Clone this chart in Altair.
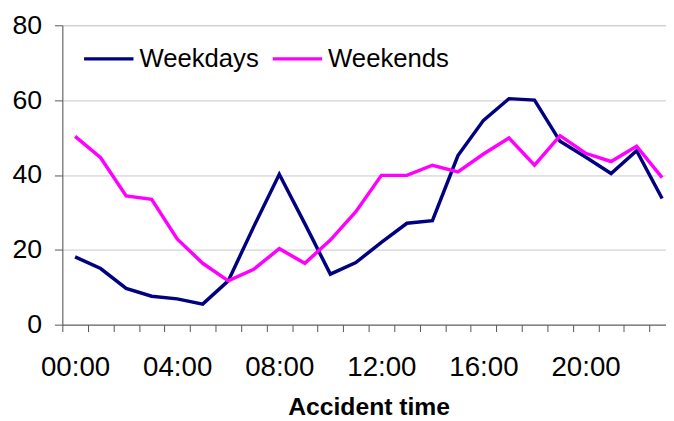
import altair as alt
import pandas as pd

hours = list(range(24))
weekdays = [18.1, 15.0, 9.7, 7.6, 6.9, 5.5, 11.7, 26.2, 40.2, 27.0, 13.5, 16.6,
            22.0, 27.1, 27.8, 45.2, 54.6, 60.4, 60.0, 49.0, 44.8, 40.4, 46.5, 33.7]
weekends = [50.3, 44.6, 34.4, 33.5, 22.9, 16.4, 11.7, 14.8, 20.3, 16.4, 22.6, 30.2,
            39.9, 39.9, 42.6, 40.8, 45.6, 49.9, 42.6, 50.5, 45.8, 43.6, 47.7, 39.3]
series_names = ["Weekdays", "Weekends"]
series_colors = ["#000080", "#FF00FF"]
y_ticks = [0, 20, 40, 60, 80]

rows = []
for h, v in zip(hours, weekdays):
    rows.append({"hour": h, "series": "Weekdays", "value": v})
for h, v in zip(hours, weekends):
    rows.append({"hour": h, "series": "Weekends", "value": v})
df = pd.DataFrame(rows)

FONT = "Liberation Sans"
BAND = 620 / 24.0

label_expr = ("datum.value % 4 == 0 ? ((datum.value < 10 ? '0' : '') + datum.value + ':00') : ''")

chart = alt.Chart(df).mark_line(strokeWidth=3.5).encode(
    x=alt.X(
        "hour:Q",
        scale=alt.Scale(domain=[-0.5, 23.5], range=[0, 620], nice=False, zero=False),
        axis=alt.Axis(
            values=hours,
            labelExpr=label_expr,
            labelOverlap=False,
            tickOffset=-BAND / 2,
            labelOffset=BAND / 2,
            grid=False,
            ticks=True,
            tickSize=7,
            tickColor="#555555",
            domainColor="#555555",
            labelFont=FONT,
            labelFontSize=28,
            labelColor="black",
            labelPadding=22,
            title="Accident time",
            titleFont=FONT,
            titleFontSize=25,
            titleFontWeight="bold",
            titleColor="black",
            titlePadding=14,
        ),
    ),
    y=alt.Y(
        "value:Q",
        scale=alt.Scale(domain=[0, 80], nice=False),
        axis=alt.Axis(
            values=y_ticks,
            grid=True,
            gridColor="#c8c8c8",
            gridWidth=1,
            tickSize=8,
            tickColor="#555555",
            domainColor="#555555",
            labelFont=FONT,
            labelFontSize=27,
            labelColor="black",
            labelPadding=13,
            title=None,
        ),
    ),
    color=alt.Color(
        "series:N",
        scale=alt.Scale(domain=series_names, range=series_colors),
        legend=alt.Legend(
            title=None,
            orient="none",
            legendX=20,
            legendY=7,
            direction="horizontal",
            symbolType="stroke",
            symbolSize=2500,
            symbolStrokeWidth=3.5,
            labelFont=FONT,
            labelFontSize=26,
            labelColor="black",
            labelOffset=4,
            columnPadding=7,
            padding=0,
        ),
    ),
).properties(
    width=611,
    height=303,
    autosize=alt.AutoSizeParams(type="none"),
    padding={"left": 55, "top": 15, "right": 0, "bottom": 95},
).configure_view(
    stroke=None
).configure(
    background="white"
)

chart.save("out.html", embed_options={"renderer": "svg", "actions": False})
